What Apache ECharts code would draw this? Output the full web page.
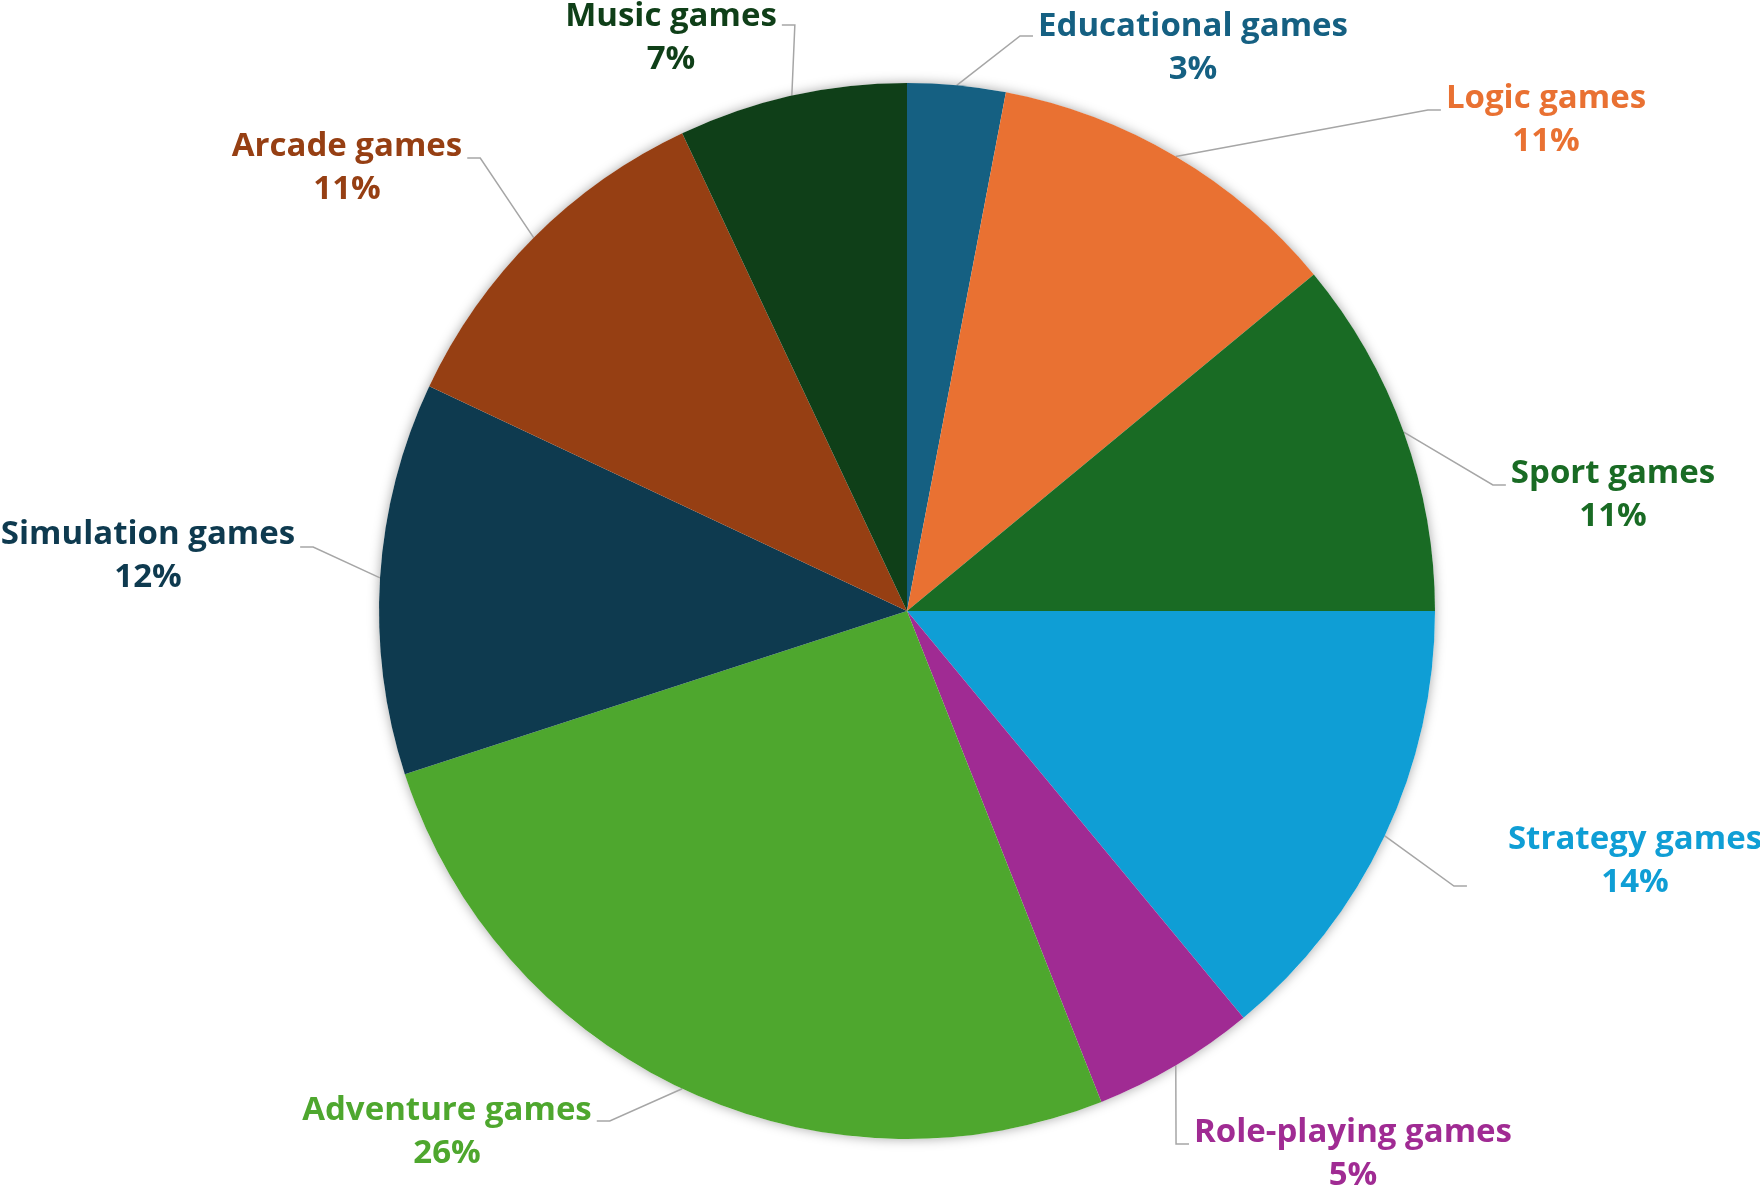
<!DOCTYPE html>
<html>
<head>
<meta charset="utf-8">
<script src="https://cdn.jsdelivr.net/npm/echarts@6/dist/echarts.min.js"></script>
<style>
  html, body { margin: 0; padding: 0; background: #ffffff; }
  #chart { width: 1760px; height: 1192px; }
</style>
</head>
<body>
<div id="chart"></div>
<script>
// Game genres, clockwise from twelve o'clock
const categories = [
  'Educational games', 'Logic games', 'Sport games', 'Strategy games',
  'Role-playing games', 'Adventure games', 'Simulation games', 'Arcade games', 'Music games'
];
// Share of each genre, percent
const shares = [3, 11, 11, 14, 5, 26, 12, 11, 7];
const sliceColors = [
  '#156082', '#E97132', '#196B24', '#0F9ED5',
  '#A02B93', '#4EA72E', '#0E3A4F', '#963F13', '#0F3F18'
];

// Pie geometry (pixels)
const CX = 907, CY = 611, R = 528;

// Label block centre relative to the pie centre, vertical offset of the leader
// join from that centre, and extra gap between leader stub and text
const labelSpots = [
  [286, -563, -12, 0],
  [639, -491, -10, 0],
  [706, -116, -10, 0],
  [728, 250, 25, 36],
  [446, 543, -10, 0],
  [-460, 521, -11, 0],
  [-759, -55, -9, 0],
  [-560, -443, -10, 0],
  [-236, -573, -13, 0]
];
const STUB = 13, GAP = 5;

const total = shares.reduce((a, b) => a + b, 0);
const midAngles = [];
let acc = 0;
shares.forEach(v => { midAngles.push((acc + v / 2) / total * Math.PI * 2); acc += v; });

const pieData = categories.map((name, i) => ({
  name: name,
  value: shares[i],
  itemStyle: { color: sliceColors[i] },
  label: { color: sliceColors[i] }
}));

const chart = echarts.init(document.getElementById('chart'), null, { renderer: 'canvas' });

chart.setOption({
  backgroundColor: '#ffffff',
  animation: false,
  series: [
    {
      // soft halo under the whole pie
      type: 'pie',
      silent: true,
      z: 1,
      center: [CX, CY],
      radius: R,
      label: { show: false },
      labelLine: { show: false },
      itemStyle: {
        color: '#ffffff',
        shadowBlur: 12,
        shadowColor: 'rgba(0,0,0,0.35)'
      },
      data: [{ name: '', value: total }]
    },
    {
      type: 'pie',
      z: 2,
      center: [CX, CY],
      radius: R,
      startAngle: 90,
      clockwise: true,
      avoidLabelOverlap: false,
      itemStyle: { borderWidth: 0 },
      label: {
        show: true,
        position: 'outside',
        fontFamily: 'Open Sans',
        fontWeight: 'bold',
        fontSize: 33,
        lineHeight: 43,
        align: 'center',
        formatter: p => p.name + '\n' + Math.round(p.percent) + '%'
      },
      labelLine: {
        show: true,
        smooth: false,
        lineStyle: { color: '#A6A6A6', width: 1.5 }
      },
      labelLayout: function (p) {
        const i = p.dataIndex;
        const s = labelSpots[i];
        const lx = CX + s[0], ly = CY + s[1];
        const w = p.labelRect.width;
        const a = midAngles[i];
        const ax = CX + R * Math.sin(a), ay = CY - R * Math.cos(a);
        const onRight = lx > ax;
        const jy = ly + s[2];
        const endX = onRight ? lx - w / 2 - GAP - s[3] : lx + w / 2 + GAP + s[3];
        const jx = onRight ? endX - STUB : endX + STUB;
        return {
          x: lx,
          y: ly,
          align: 'center',
          verticalAlign: 'middle',
          labelLinePoints: [[ax, ay], [jx, jy], [endX, jy]]
        };
      },
      data: pieData
    }
  ]
});
</script>
</body>
</html>
